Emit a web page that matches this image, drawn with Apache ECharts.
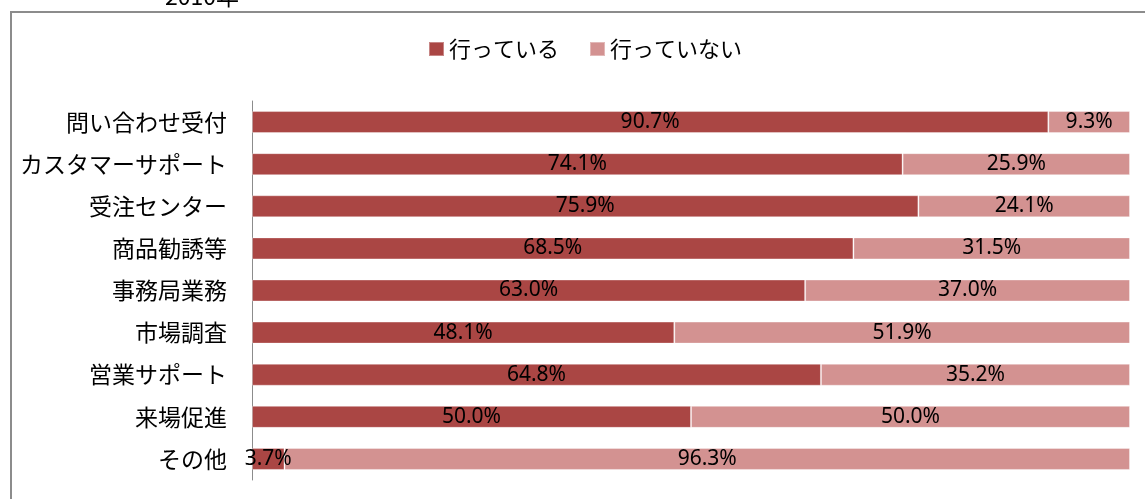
<!DOCTYPE html>
<html>
<head>
<meta charset="utf-8">
<script src="https://cdn.jsdelivr.net/npm/echarts@6/dist/echarts.min.js"></script>
<style>
html, body { margin: 0; padding: 0; background: #fff; }
#chart { width: 1145px; height: 499px; }
</style>
</head>
<body>
<div id="chart"></div>
<script>
// カテゴリ
const categories = ['問い合わせ受付', 'カスタマーサポート', '受注センター', '商品勧誘等', '事務局業務', '市場調査', '営業サポート', '来場促進', 'その他'];
// 行っている (%)
const doing = [90.7, 74.1, 75.9, 68.5, 63.0, 48.1, 64.8, 50.0, 3.7];
// 行っていない (%)
const notDoing = [9.3, 25.9, 24.1, 31.5, 37.0, 51.9, 35.2, 50.0, 96.3];

const jpFont = '"Noto Sans CJK JP", "Noto Sans", sans-serif';

const myChart = echarts.init(document.getElementById('chart'));

const makeSeries = (name, data, color) => ({
    name: name,
    type: 'bar',
    stack: 'total',
    data: data,
    barWidth: 22,
    itemStyle: { color: color, borderColor: 'rgba(255,255,255,0.35)', borderWidth: 1 },
    label: {
        show: true,
        position: 'inside',
        color: '#000',
        fontFamily: '"Noto Sans", sans-serif',
        fontSize: 21,
        formatter: p => p.value.toFixed(1) + '%'
    }
});

myChart.setOption({
    animation: false,
    graphic: [
        {
            type: 'rect',
            shape: { x: 11, y: 12, width: 1200, height: 600 },
            style: { fill: 'none', stroke: '#8c8c8c', lineWidth: 2 }
        },
        {
            type: 'text',
            x: 202,
            y: 8,
            style: {
                text: '2010年',
                font: '23px ' + jpFont,
                fill: '#000',
                textAlign: 'center',
                textVerticalAlign: 'bottom'
            }
        }
    ],
    legend: {
        top: 38,
        left: 428,
        padding: 0,
        itemWidth: 15,
        itemHeight: 14,
        itemGap: 30,
        icon: 'rect',
        textStyle: { fontFamily: jpFont, fontSize: 22, color: '#000' },
        data: ['行っている', '行っていない']
    },
    grid: { left: 252, right: 15, top: 101, bottom: 19, containLabel: false },
    xAxis: {
        type: 'value',
        min: 0,
        max: 100,
        show: false
    },
    yAxis: {
        type: 'category',
        inverse: true,
        data: categories,
        axisLine: { show: true, lineStyle: { color: '#8c8c8c', width: 1 } },
        axisTick: { show: false },
        axisLabel: { margin: 25, color: '#000', fontFamily: jpFont, fontSize: 23 }
    },
    series: [
        makeSeries('行っている', doing, '#AA4644'),
        makeSeries('行っていない', notDoing, '#D39291')
    ]
});
</script>
</body>
</html>
